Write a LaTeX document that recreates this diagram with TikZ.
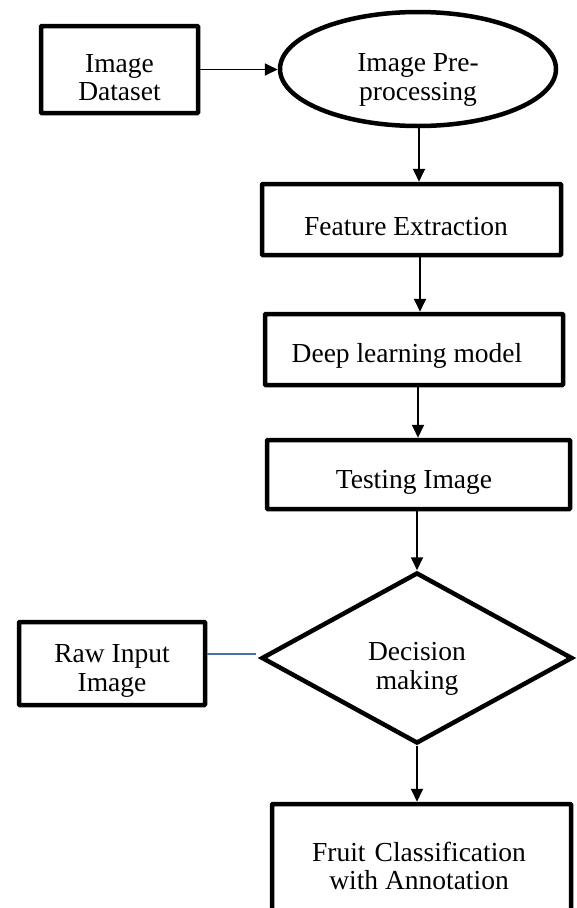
\documentclass[tikz,border=0pt]{standalone}
\usepackage{fontspec}
\setmainfont{Liberation Serif}
\usetikzlibrary{shapes.geometric,arrows.meta}
\definecolor{linkblue}{RGB}{68,114,176}
\begin{document}
\begin{tikzpicture}[x=1pt,y=-1pt,
  every node/.style={inner sep=0pt},
  txt/.style={font=\fontsize{27.5}{28.5}\selectfont, align=center},
  box/.style={draw, line width=4.5pt, rectangle, rounded corners=0.8pt},
  oval/.style={draw, line width=4.5pt, ellipse},
  dia/.style={draw, line width=4.5pt, diamond},
  arr/.style={line width=1.8pt, -{Triangle[length=13pt,width=12pt]}},
  plain/.style={line width=2pt, draw=linkblue}
]
\useasboundingbox (0,0) rectangle (576,908);
% shapes
\node[box, minimum width=157pt, minimum height=87pt] (ds) at (119.5,69.5) {};
\node[oval, minimum width=276pt, minimum height=114pt] (pre) at (418,69) {};
\node[box, minimum width=299pt, minimum height=71pt] (fe) at (411.5,219.5) {};
\node[box, minimum width=298pt, minimum height=71pt] (dl) at (414,349.5) {};
\node[box, minimum width=303pt, minimum height=69pt] (ti) at (418.5,474.5) {};
\node[dia, minimum width=311pt, minimum height=171pt, aspect=1.82] (dec) at (417,658) {};
\node[box, minimum width=186pt, minimum height=83pt] (raw) at (112,663.5) {};
\node[box, minimum width=299pt, minimum height=116pt] (fin) at (421.5,862) {};
% texts
\node[txt] (dst) at (119.5,77.5) {Image\\Dataset};
\node[txt] (pret) at (418,80) {Image Pre-\\processing};
\node[txt] (fet) at (406,227) {Feature Extraction};
\node[txt] (dlt) at (407,356) {Deep learning model};
\node[txt] (tit) at (414,482) {Testing Image};
\node[txt] (dect) at (417,669) {Decision\\making};
\node[txt] (rawt) at (112,671) {Raw Input\\Image};
\node[txt] (fint) at (419,866) {Fruit\,\,Classification\\with Annotation};
% connectors
\coordinate (rawend) at (256,654);
\draw[arr] (ds.east) -- (pre.west |- ds.east);
\draw[arr] (pre.south -| 419,0) -- (fe.north -| 419,0);
\draw[arr] (fe.south -| 420,0) -- (dl.north -| 420,0);
\draw[arr] (dl.south -| 418,0) -- (ti.north -| 418,0);
\draw[arr] (ti.south -| dec.north) -- (dec.north);
\draw[arr] (dec.south) -- (fin.north -| dec.south);
\draw[plain] (raw.east |- rawend) -- (rawend);
\end{tikzpicture}
\end{document}
